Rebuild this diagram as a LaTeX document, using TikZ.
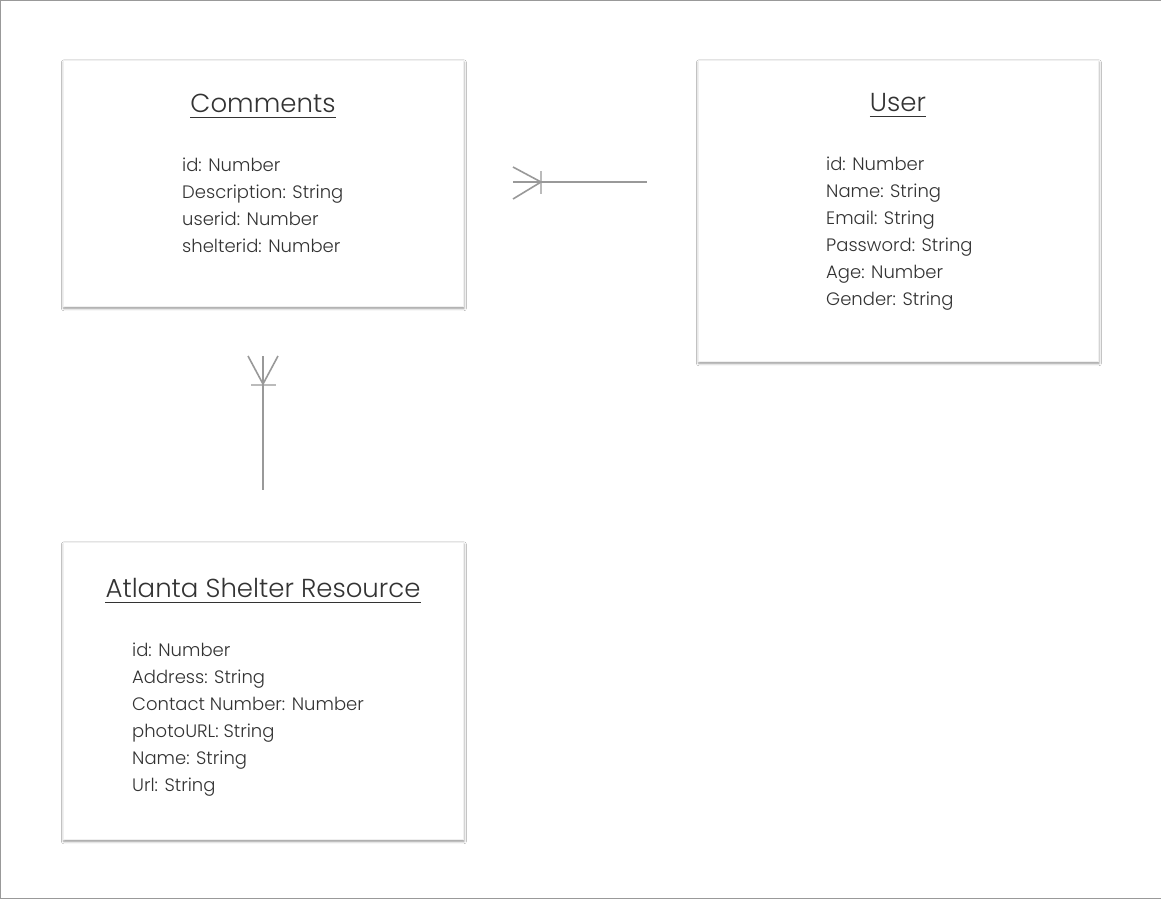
\documentclass[tikz,border=0pt]{standalone}
\usepackage{fontspec}
\setmainfont{Poppins}[UprightFont=* Light]
\usetikzlibrary{shadows.blur}
\definecolor{txt}{HTML}{333333}
\definecolor{conn}{HTML}{999999}
\definecolor{bar}{HTML}{BBBBBB}
\definecolor{frame}{HTML}{999999}
\tikzset{
  entity/.style={draw=black!6, line width=0.6pt, fill=white, inner sep=0pt, anchor=north west,
    blur shadow={shadow xshift=0.6pt, shadow yshift=-2pt, shadow blur radius=2.5pt, shadow opacity=45}},
  etitle/.style={inner sep=0pt, anchor=base, text=txt, font=\fontsize{26}{30}\selectfont},
  ebody/.style={inner sep=0pt, anchor=base west, text=txt,
    font=\fontsize{18}{27}\selectfont},
  uline/.style={draw=txt, line width=1pt},
  connline/.style={draw=conn, line width=1.6pt},
  connbar/.style={draw=bar, line width=1.6pt},
}
\newcommand{\attrlist}[1]{\begin{tabular}[t]{@{}l@{}}#1\end{tabular}}
\begin{document}
\begin{tikzpicture}[x=1pt,y=-1pt]
\useasboundingbox (0,0) rectangle (1161,899);
\fill[white] (0,0) rectangle (1161,899);
\draw[frame, line width=1pt] (1161,0.5) -- (0.5,0.5) -- (0.5,898) -- (1161,898);

% boxes
\node[entity, minimum width=400pt, minimum height=246pt] (comments) at (63,60) {};
\node[entity, minimum width=400pt, minimum height=301pt] (user) at (698,60) {};
\node[entity, minimum width=400pt, minimum height=297pt] (shelter) at (63,542) {};

% titles
\node[etitle] (ct) at (263,112) {Comments};
\draw[uline] ([yshift=-5pt]ct.base west) -- ([yshift=-5pt]ct.base east);
\node[etitle] (ut) at (898,111) {User};
\draw[uline] ([yshift=-5pt]ut.base west) -- ([yshift=-5pt]ut.base east);
\node[etitle] (st) at (263,597) {Atlanta Shelter Resource};
\draw[uline] ([yshift=-5pt]st.base west) -- ([yshift=-5pt]st.base east);

% bodies
\node[ebody] (cb) at (182,171) {\attrlist{id: Number\\Description: String\\userid: Number\\shelterid: Number}};
\node[ebody] (ub) at (826,170) {\attrlist{id: Number\\Name: String\\Email: String\\Password: String\\Age: Number\\Gender: String}};
\node[ebody] (sb) at (132,656) {\attrlist{id: Number\\Address: String\\Contact Number: Number\\photoURL: String\\Name: String\\Url: String}};

% horizontal connector (crow's foot at left)
\coordinate (h0) at (513,182);
\coordinate (h1) at (647,182);
\coordinate (hp1) at (513,167);
\coordinate (hp2) at (513,199);
\coordinate (hj) at (541,182);
\coordinate (hb1) at (541,171);
\coordinate (hb2) at (541,194);
\draw[connbar] (hb1) -- (hb2);
\draw[connline] (h0) -- (h1);
\draw[connline] (hp1) -- (hj) -- (hp2);

% vertical connector (crow's foot at top)
\coordinate (v0) at (263,356);
\coordinate (v1) at (263,490);
\coordinate (vp1) at (248,356);
\coordinate (vp2) at (278,356);
\coordinate (vj) at (263,384);
\coordinate (vb1) at (251,385);
\coordinate (vb2) at (276,385);
\draw[connbar] (vb1) -- (vb2);
\draw[connline] (v0) -- (v1);
\draw[connline] (vp1) -- (vj) -- (vp2);
\end{tikzpicture}
\end{document}
